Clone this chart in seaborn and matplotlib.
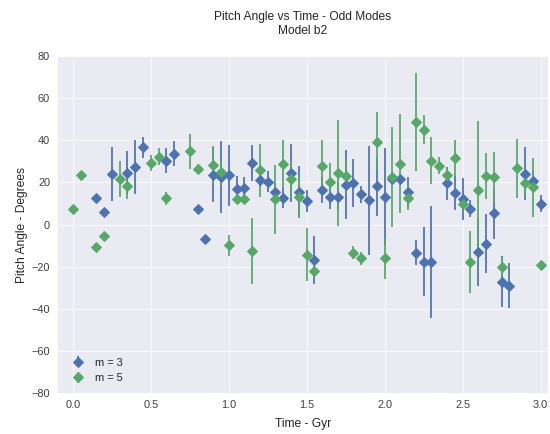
import numpy as np
import matplotlib
matplotlib.use("Agg")
import matplotlib.pyplot as plt
import seaborn as sns

# time grid (Gyr)
time = np.round(np.arange(0, 3.0001, 0.05), 2)

nan = np.nan
# m = 3 pitch angle and error (deg)
m3_pitch = [nan, nan, nan, 12.6, 6.2, 24.0, nan, 24.5, 27.3, 36.7,
            nan, nan, 30.4, 33.6, nan, nan, 7.2, -6.9, 23.7, 22.5,
            23.4, 17.0, 17.5, 29.2, 21.0, 20.3, 15.6, 12.8, 24.5, 15.6,
            11.2, -16.9, 16.4, 13.3, 13.3, 19.0, 19.8, 14.4, 11.6, 18.3,
            13.3, 21.4, 21.4, 15.5, -13.3, -17.7, -17.7, nan, 19.5, 15.1,
            12.3, 7.6, -13.0, -9.0, 5.3, -27.0, -28.9, nan, 24.2, 20.6,
            10.0]
m3_err = [0, 0, 0, 0, 0, 13, 0, 10.3, 13, 5,
          0, 0, 6, 6, 0, 0, 0, 0, 13, 17,
          14.5, 6, 5, 8.6, 3, 5, 4, 4.7, 13.7, 12,
          5, 11.3, 6, 6, 7, 16.4, 11.3, 4, 25.8, 14,
          23, 0, 0, 7, 6, 16.4, 26.5, 0, 8, 8,
          10, 4, 16, 14.2, 12, 12, 10.5, 0, 12.5, 5,
          4]

# m = 5 pitch angle and error (deg)
m5_pitch = [7.5, 23.4, nan, -10.8, -5.6, nan, 21.7, 18.3, nan, nan,
            29.2, 32.3, 12.5, nan, nan, 34.7, 26.6, nan, 28.4, 24.8,
            -9.8, 12.0, 12.0, -12.5, 25.8, nan, 12.0, 28.9, 21.4, 13.3,
            -14.2, -21.9, 28.0, 20.0, 24.5, 23.0, -13.3, -16.0, nan, 39.3,
            -16.0, 22.5, 28.9, 12.8, 48.7, 45.1, 30.4, 28.0, 23.7, 31.5,
            10.0, -17.7, 16.2, 23.0, 22.5, -20.3, nan, 26.8, 19.5, 17.8,
            -19.2]
m5_err = [0, 0, 0, 0, 0, 0, 8.5, 6, 0, 0,
          4, 4, 3, 0, 0, 8.5, 2, 0, 9, 6,
          5, 2, 2, 15.6, 12.5, 0, 16.4, 11.3, 9, 10,
          12.5, 3, 12, 9, 25, 8, 3, 3, 0, 14,
          10, 23.6, 23.4, 6, 23.4, 7, 11.3, 4, 3, 8.5,
          4, 14.7, 33, 11, 12, 5, 0, 14, 6, 14,
          0]

sns.set_style("darkgrid")
plt.rcParams['font.family'] = ['Liberation Sans', 'DejaVu Sans']

pal = sns.color_palette("deep")
blue = pal[0]
green = pal[2]

fig = plt.figure(figsize=(550 / 72, 434 / 72), dpi=72)
ax = fig.add_axes([0.104, 0.094, 0.893, 0.777])

ax.errorbar(time, m3_pitch, yerr=m3_err, fmt='D', color=blue, ecolor=blue,
            markersize=7, elinewidth=1.75, capsize=0, label='m = 3')
ax.errorbar(time, m5_pitch, yerr=m5_err, fmt='D', color=green, ecolor=green,
            markersize=7, elinewidth=1.75, capsize=0, label='m = 5')

ax.set_xlim(-0.1, 3.05)
ax.set_ylim(-80, 80)
ax.set_xticks(np.arange(0, 3.01, 0.5))
ax.set_yticks(np.arange(-80, 81, 20))
ax.tick_params(labelsize=11, labelcolor='.25')

ax.set_xlabel('Time - Gyr', fontsize=12, labelpad=8)
ax.set_ylabel('Pitch Angle - Degrees', fontsize=12)
ax.set_title('Pitch Angle vs Time - Odd Modes\nModel b2', fontsize=12, pad=22)

ax.legend(loc='lower left', frameon=False, fontsize=11, handletextpad=0.5)

fig.savefig('out.png', dpi=72)
